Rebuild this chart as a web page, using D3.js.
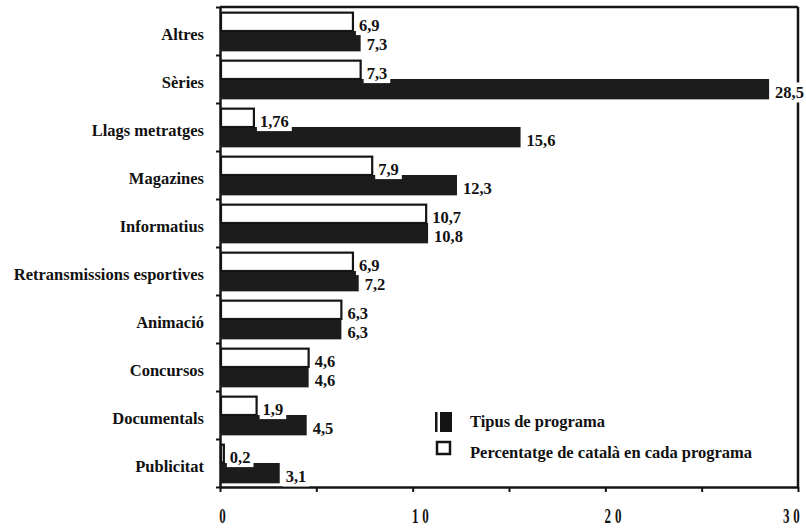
<!DOCTYPE html>
<html>
<head>
<meta charset="utf-8">
<script src="https://cdn.jsdelivr.net/npm/d3@7"></script>
<style>
  body { margin: 0; background: #fff; }
  svg { display: block; }
  text { font-family: "Liberation Serif", "DejaVu Serif", serif; font-weight: bold; fill: #111; }
</style>
</head>
<body>
<svg id="chart" width="806" height="530"></svg>
<script>
var categories = ["Altres", "Sèries", "Llags metratges", "Magazines", "Informatius",
    "Retransmissions esportives", "Animació", "Concursos", "Documentals", "Publicitat"];
// percentatge de català en cada programa (white bars)
var catala = [6.9, 7.3, 1.76, 7.9, 10.7, 6.9, 6.3, 4.6, 1.9, 0.2];
// tipus de programa (black bars)
var tipus = [7.3, 28.5, 15.6, 12.3, 10.8, 7.2, 6.3, 4.6, 4.5, 3.1];
var xTicks = [0, 5, 10, 15, 20, 25, 30];
var legendItems = ["Tipus de programa", "Percentatge de català en cada programa"];

var svg = d3.select("svg#chart"),
    ink = "#141414";

var x = d3.scaleLinear().domain([0, 30]).range([220, 798]);
var y = d3.scaleBand().domain(categories).range([7, 487]);
var sub = d3.scaleBand().domain(["catala", "tipus"])
    .range([0, y.bandwidth()])
    .paddingOuter(0.24);

var data = categories.map(function (c, i) {
    return { cat: c, catala: catala[i], tipus: tipus[i] };
});

var fmt = function (v) { return String(v).replace(".", ","); };

// frame: top and right lines
svg.append("line").attr("x1", x(0)).attr("x2", x(30)).attr("y1", 7).attr("y2", 7)
    .attr("stroke", ink).attr("stroke-width", 2.5);
svg.append("line").attr("x1", x(30)).attr("x2", x(30)).attr("y1", 7).attr("y2", 487)
    .attr("stroke", ink).attr("stroke-width", 2.5);

// bottom axis
var xAxis = svg.append("g")
    .attr("transform", "translate(0,487)")
    .call(d3.axisBottom(x).tickValues(xTicks).tickSize(5).tickSizeOuter(0)
        .tickFormat(function (d) { return d % 10 === 0 ? d : ""; }));
xAxis.select(".domain").attr("stroke", ink).attr("stroke-width", 2.5);
xAxis.selectAll(".tick line").attr("stroke", ink).attr("stroke-width", 2);
xAxis.selectAll(".tick text")
    .attr("text-anchor", "start")
    .attr("y", 22)
    .attr("dx", function (d) { return d === 30 ? -24 : -2; })
    .attr("transform", "scale(0.65,1)")
    .style("letter-spacing", "6px")
    .style("font-family", "'Liberation Serif', serif")
    .style("font-weight", "bold")
    .style("font-size", "20px")
    .attr("fill", ink);

// left axis with ticks on the band edges
var yEdge = d3.scaleLinear().domain([0, categories.length]).range([7, 487]);
var yAxis = svg.append("g")
    .attr("transform", "translate(" + x(0) + ",0)")
    .call(d3.axisLeft(yEdge).ticks(categories.length).tickSize(4).tickSizeOuter(0).tickFormat(""));
yAxis.select(".domain").attr("stroke", ink).attr("stroke-width", 2.5);
yAxis.selectAll(".tick line").attr("stroke", ink).attr("stroke-width", 2);

// category labels
var catAxis = svg.append("g")
    .attr("transform", "translate(204,0)")
    .call(d3.axisLeft(y).tickSize(0).tickPadding(0));
catAxis.select(".domain").remove();
catAxis.selectAll(".tick text")
    .attr("dy", "0.55em")
    .style("font-family", "'Liberation Serif', serif")
    .style("font-weight", "bold")
    .style("font-size", "16.5px")
    .attr("fill", ink);

// bars
var rows = svg.append("g").selectAll("g")
    .data(data)
    .enter().append("g")
    .attr("transform", function (d) { return "translate(0," + y(d.cat) + ")"; });

rows.append("rect")
    .attr("x", x(0))
    .attr("y", sub("tipus"))
    .attr("width", function (d) { return x(d.tipus) - x(0); })
    .attr("height", sub.bandwidth() + 1)
    .attr("fill", "#1c1c1c");

rows.append("rect")
    .attr("x", x(0) + 1)
    .attr("y", sub("catala") + 1)
    .attr("width", function (d) { return Math.max(x(d.catala) - x(0) - 1, 2); })
    .attr("height", sub.bandwidth() - 1)
    .attr("fill", "#fff")
    .attr("stroke", ink)
    .attr("stroke-width", 2.2);

// value labels with white backing
function addLabel(sel, key) {
    var lab = sel.append("g")
        .attr("transform", function (d) {
            return "translate(" + (x(d[key]) + 6) + "," + (sub(key) + sub.bandwidth() / 2 + 4) + ")";
        });
    lab.append("rect").attr("fill", "#fff");
    lab.append("text")
        .attr("dy", "0.35em")
        .style("font-size", "16.5px")
        .text(function (d) { return fmt(d[key]); });
    lab.each(function () {
        var g = d3.select(this);
        var b = g.select("text").node().getBBox();
        g.select("rect")
            .attr("x", b.x - 3).attr("y", b.y - 1)
            .attr("width", b.width + 6).attr("height", b.height + 1);
    });
}
addLabel(rows, "catala");
addLabel(rows, "tipus");

// legend
var legend = svg.append("g").attr("transform", "translate(435,412)");
legend.append("rect").attr("x", 0).attr("y", 0).attr("width", 2.5).attr("height", 20).attr("fill", ink);
legend.append("rect").attr("x", 5).attr("y", 0).attr("width", 12).attr("height", 20).attr("fill", ink);
legend.append("rect").attr("x", 2).attr("y", 30).attr("width", 13).attr("height", 12)
    .attr("fill", "#fff").attr("stroke", ink).attr("stroke-width", 2.5);
legend.selectAll("text.leg")
    .data(legendItems)
    .enter().append("text")
    .attr("class", "leg")
    .attr("x", 35)
    .attr("y", function (d, i) { return 15 + i * 31; })
    .style("font-size", "16.5px")
    .text(function (d) { return d; });
</script>
</body>
</html>
